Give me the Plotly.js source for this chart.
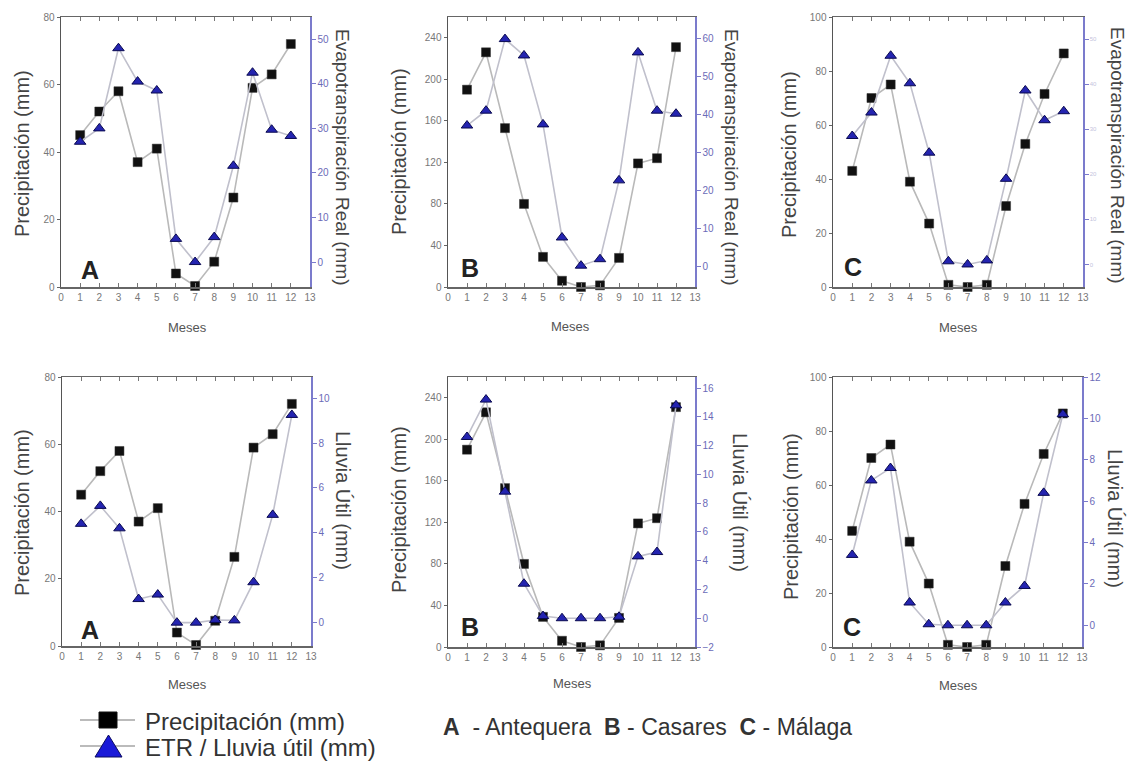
<!DOCTYPE html>
<html>
<head>
<meta charset="utf-8">
<script src="https://cdn.plot.ly/plotly-3.0.1.min.js"></script>
<style>
  html, body { margin: 0; padding: 0; background: #ffffff; }
  #chart { width: 1129px; height: 762px; }
</style>
</head>
<body>
<div id="chart"></div>
<script>
// Months on the x axis
const months = [1, 2, 3, 4, 5, 6, 7, 8, 9, 10, 11, 12];
const monthTicks = [0, 1, 2, 3, 4, 5, 6, 7, 8, 9, 10, 11, 12, 13];

// A - Antequera
const precipA = [45, 52, 58, 37, 41, 4, 0.3, 7.5, 26.5, 59, 63, 72];
const etrA = [27, 30, 48, 40.5, 38.5, 5.2, 0, 5.6, 21.6, 42.5, 29.7, 28.3];
const lluviaA = [4.4, 5.2, 4.2, 1.05, 1.25, 0, 0, 0.12, 0.1, 1.8, 4.8, 9.25];

// B - Casares
const precipB = [190, 226, 153, 80, 29, 6, 0, 1.6, 28, 119, 124, 231];
const etrB = [37.1, 41, 59.8, 55.5, 37.4, 7.7, 0.3, 2, 22.7, 56.3, 41, 40.2];
const lluviaB = [12.6, 15.2, 8.8, 2.4, 0.15, 0, 0, 0, 0.1, 4.3, 4.6, 14.8];

// C - Málaga
const precipC = [43, 70, 75, 39, 23.5, 0.8, 0, 0.8, 30, 53, 71.5, 86.5];
const etrC = [28.5, 33.7, 46.3, 40.2, 24.8, 0.7, 0, 0.9, 19, 38.6, 32, 34];
const lluviaC = [3.4, 7, 7.6, 1.1, 0.05, 0, 0, 0, 1.1, 1.9, 6.4, 10.2];

// Text
const stationLetters = ['A', 'B', 'C'];
const leftTitle = 'Precipitación (mm)';
const etrTitle = 'Evapotranspiración Real (mm)';
const lluviaTitle = 'Lluvia Útil (mm)';
const xTitle = 'Meses';
const legendNames = ['Precipitación (mm)', 'ETR / Lluvia útil (mm)'];
const stationKey = '<b>A</b>\u00A0\u00A0- Antequera\u00A0\u00A0<b>B</b> - Casares\u00A0\u00A0<b>C</b> - Málaga';

const W = 1129, H = 762;
const fx = px => px / W;
const fy = py => 1 - py / H;
const FONT = 'Liberation Sans, Arial, Helvetica, sans-serif';

// Panel layout: pixel boxes, axis ranges and label anchors
const panels = [
  { box: [61, 310, 17, 287], p: precipA, s: etrA, lr: [0, 80], ld: 20, rr: [-5.6, 55], rd: 10,
    rt: etrTitle, letter: 0, lt: [22, 154], rtp: [343, 157], mt: [187, 327], lp: [90, 270] },
  { box: [448, 695, 17, 287], p: precipB, s: etrB, lr: [0, 260], ld: 40, rr: [-5.3, 65.6], rd: 10,
    rt: etrTitle, letter: 1, lt: [399, 152], rtp: [732, 157], mt: [570, 326], lp: [470, 268] },
  { box: [833, 1083, 17, 287], p: precipC, s: etrC, lr: [0, 100], ld: 20, rr: [-5.0, 54.9], rd: 10,
    rt: etrTitle, letter: 2, lt: [789, 155], rtp: [1117, 155], mt: [958, 327], lp: [853, 267], faint: true },
  { box: [62, 311, 377, 646], p: precipA, s: lluviaA, lr: [0, 80], ld: 20, rr: [-1.04, 10.94], rd: 2,
    rt: lluviaTitle, letter: 0, lt: [22, 513], rtp: [343, 500], mt: [187, 684], lp: [90, 630] },
  { box: [448, 695, 377, 647], p: precipB, s: lluviaB, lr: [0, 260], ld: 40, rr: [-2, 16.77], rd: 2,
    rt: lluviaTitle, letter: 1, lt: [399, 510], rtp: [740, 502], mt: [572, 683], lp: [470, 627] },
  { box: [833, 1082, 377, 647], p: precipC, s: lluviaC, lr: [0, 100], ld: 20, rr: [-1.05, 12], rd: 2,
    rt: lluviaTitle, letter: 2, lt: [791, 517], rtp: [1115, 518], mt: [958, 685], lp: [852, 627] }
];

const lineGray = '#b9b9b9';
const traces = [];
const layout = {
  width: W, height: H,
  margin: { l: 0, r: 0, t: 0, b: 0 },
  paper_bgcolor: '#ffffff', plot_bgcolor: '#ffffff',
  showlegend: false,
  font: { family: FONT, color: '#555' },
  annotations: [],
  shapes: []
};

panels.forEach((c, i) => {
  const n = i + 1;
  const yl = 2 * i + 1, yr = 2 * i + 2;
  const xName = 'x' + n, ylName = 'y' + yl, yrName = 'y' + yr;

  layout['xaxis' + n] = {
    domain: [fx(c.box[0]), fx(c.box[1])], anchor: ylName,
    range: [0, 13], tickvals: monthTicks, ticks: 'inside', ticklen: 4, tickcolor: '#777',
    showline: true, linecolor: '#666', linewidth: 1.5, mirror: 'ticks',
    showgrid: false, zeroline: false, tickfont: { size: 10, color: '#777', family: FONT }
  };
  layout['yaxis' + yl] = {
    domain: [fy(c.box[3]), fy(c.box[2])], anchor: xName,
    range: c.lr, dtick: c.ld, tick0: 0, ticks: 'outside', ticklen: 3, tickcolor: '#666',
    showline: true, linecolor: '#555', linewidth: 1.5,
    showgrid: false, zeroline: false, tickfont: { size: 10, color: '#777', family: FONT }
  };
  layout['yaxis' + yr] = {
    overlaying: ylName, side: 'right', anchor: xName,
    range: c.rr, dtick: c.rd, tick0: 0, ticks: 'outside', ticklen: 4, tickcolor: '#7b7bcc',
    showline: true, linecolor: '#7b7bcc', linewidth: 1.5,
    showgrid: false, zeroline: false,
    tickfont: c.faint ? { size: 6, color: '#c4c4dc', family: FONT } : { size: 10, color: '#6b6bb8', family: FONT }
  };

  traces.push({
    type: 'scatter', mode: 'lines+markers', x: months, y: c.p, xaxis: xName, yaxis: ylName,
    cliponaxis: false, name: legendNames[0],
    line: { color: lineGray, width: 1.6 },
    marker: { symbol: 'square', size: 9, color: '#111', line: { color: '#333', width: 0.5 } }
  });
  traces.push({
    type: 'scatter', mode: 'lines+markers', x: months, y: c.s, xaxis: xName, yaxis: yrName,
    cliponaxis: false, name: legendNames[1],
    line: { color: '#c0c0cc', width: 1.6 },
    marker: { symbol: 'triangle-up', size: 10, color: '#2424b0', line: { color: '#0a0a50', width: 1 } }
  });

  const ann = layout.annotations;
  ann.push({ xref: 'paper', yref: 'paper', x: fx(c.lt[0]), y: fy(c.lt[1]), text: leftTitle,
    textangle: -90, showarrow: false, xanchor: 'center', yanchor: 'middle',
    font: { size: 20, color: '#444', family: FONT } });
  ann.push({ xref: 'paper', yref: 'paper', x: fx(c.rtp[0]), y: fy(c.rtp[1]), text: c.rt,
    textangle: 90, showarrow: false, xanchor: 'center', yanchor: 'middle',
    font: { size: c.rt === etrTitle ? 19 : 20, color: '#444', family: FONT } });
  ann.push({ xref: 'paper', yref: 'paper', x: fx(c.mt[0]), y: fy(c.mt[1]), text: xTitle,
    showarrow: false, xanchor: 'center', yanchor: 'middle',
    font: { size: 13, color: '#555', family: FONT } });
  ann.push({ xref: 'paper', yref: 'paper', x: fx(c.lp[0]), y: fy(c.lp[1]),
    text: '<b>' + stationLetters[c.letter] + '</b>',
    showarrow: false, xanchor: 'center', yanchor: 'middle',
    font: { size: 25, color: '#222', family: FONT } });
});

// Legend key
const keyRows = [720, 746];
keyRows.forEach(y => {
  layout.shapes.push({ type: 'line', xref: 'paper', yref: 'paper',
    x0: fx(80), x1: fx(135), y0: fy(y), y1: fy(y), line: { color: '#bbbbbb', width: 2 } });
});
layout.shapes.push({ type: 'rect', xref: 'paper', yref: 'paper',
  x0: fx(99), x1: fx(117), y0: fy(728), y1: fy(712),
  fillcolor: '#000000', line: { color: '#111', width: 1 } });
layout.shapes.push({ type: 'path', xref: 'paper', yref: 'paper',
  path: `M ${fx(95)},${fy(757)} L ${fx(122)},${fy(757)} L ${fx(108.5)},${fy(735)} Z`,
  fillcolor: '#1a1ad8', line: { color: '#0a0a60', width: 1 } });
legendNames.forEach((t, k) => {
  layout.annotations.push({ xref: 'paper', yref: 'paper', x: fx(143), y: fy(keyRows[k] + 1), text: t,
    showarrow: false, xanchor: 'left', yanchor: 'middle',
    font: { size: 24, color: '#333', family: FONT } });
});
layout.annotations.push({ xref: 'paper', yref: 'paper', x: fx(441), y: fy(727), text: stationKey,
  showarrow: false, xanchor: 'left', yanchor: 'middle',
  font: { size: 23, color: '#333', family: FONT } });

Plotly.newPlot('chart', traces, layout, { staticPlot: true, displayModeBar: false });
</script>
</body>
</html>
